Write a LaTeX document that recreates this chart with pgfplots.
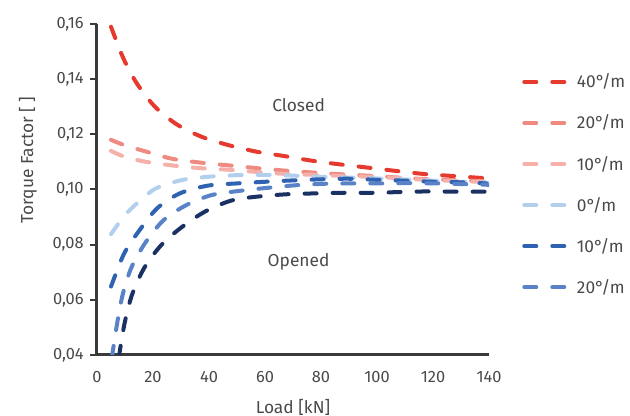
\documentclass[border=0pt]{standalone}
\usepackage{fontspec}
\setmainfont{Fira Sans}
\usepackage{pgfplots}
\pgfplotsset{compat=1.18}
\definecolor{txt}{HTML}{4A4A4A}
\definecolor{axc}{HTML}{3A3A3A}
\definecolor{cA}{HTML}{E63A2E}
\definecolor{cB}{HTML}{EF8A80}
\definecolor{cC}{HTML}{F5B0AA}
\definecolor{cD}{HTML}{B3CFEE}
\definecolor{cE}{HTML}{2F62B0}
\definecolor{cF}{HTML}{5A82C6}
\definecolor{cG}{HTML}{1B3163}
\begin{document}
\begin{tikzpicture}
\path[use as bounding box] (-72.75pt,-45.75pt) rectangle (399.75pt,266.25pt);
\begin{axis}[
  at={(0pt,0pt)}, anchor=south west,
  scale only axis, width=294pt, height=248.25pt,
  xmin=0, xmax=140, ymin=0.04, ymax=0.16,
  xtick={0,20,...,140}, ytick={0.04,0.06,...,0.161},
  axis lines*=left,
  axis line style={axc, line width=2.25pt},
  xtick style={draw=none},
  ytick style={axc, line width=1.5pt},
  tick align=outside, major tick length=5pt,
  font=\fontsize{13}{15}\selectfont\color{txt},
  tick label style={font=\fontsize{12.3}{14}\selectfont\color{txt}},
  /pgf/number format/assume math mode=true,
  yticklabel style={/pgf/number format/.cd, use comma, fixed, fixed zerofill, precision=2, /tikz/.cd, xshift=-1.5pt},
  xticklabel style={/pgf/number format/.cd, fixed, /tikz/.cd, yshift=-3.5pt},
  ylabel={Torque Factor [ ]},
  xlabel={Load [kN]},
  ylabel style={at={(axis description cs:-0.176,0.589)}, anchor=center},
  xlabel style={at={(axis description cs:0.5,-0.158)}, anchor=center},
  clip=true,
  every axis plot/.append style={line width=3pt, line cap=round, dash pattern=on 9pt off 12pt, smooth},
  legend image code/.code={\draw[#1, line width=3pt, line cap=round, dash pattern=on 9pt off 12pt] (1.5pt,0pt) -- (31.5pt,0pt);},
  legend cell align=left,
  legend style={draw=none, fill=none, at={(axis description cs:1.074,0.866)}, anchor=north west,
    row sep=14.8pt, font=\fontsize{13}{15}\selectfont\color{txt},
    /tikz/every odd column/.append style={column sep=6pt}},
]
\addplot[cA] coordinates {(5,0.159) (9.4,0.1476) (14.2,0.1385) (20.7,0.130) (28.5,0.1236) (37.4,0.1191) (46.9,0.1161) (57,0.1137) (67,0.1121) (77,0.1104) (86.8,0.1091) (97,0.1079) (107,0.1067) (117,0.1056) (127,0.1049) (140,0.1040)};
\addlegendentry{40°/m}
\addplot[cB] coordinates {(5,0.118) (10,0.1160) (17.7,0.1137) (27,0.1111) (37.4,0.1097) (47.5,0.1087) (57.6,0.1077) (67.7,0.1068) (77.9,0.1061) (87.4,0.1055) (97,0.1050) (106.4,0.1044) (116.5,0.1038) (126.7,0.1034) (140,0.1030)};
\addlegendentry{20°/m}
\addplot[cC] coordinates {(5,0.1140) (10,0.1118) (17.7,0.1100) (27.9,0.1086) (37.4,0.1077) (48,0.1071) (58,0.1063) (68.3,0.1056) (78.5,0.1053) (88,0.1049) (98,0.1046) (108,0.1041) (117.7,0.1035) (127.9,0.1031) (140,0.1027)};
\addlegendentry{10°/m}
\addplot[cD] coordinates {(5,0.0838) (9,0.0895) (13,0.0938) (20.7,0.1002) (30.2,0.1034) (39.6,0.1046) (50,0.1052) (60.7,0.1053) (70.7,0.1050) (80,0.1046) (90,0.1043) (100,0.1040) (110,0.1036) (120,0.1032) (130,0.1028) (140,0.1024)};
\addlegendentry{0°/m}
\addplot[cE] coordinates {(5,0.0648) (9.6,0.0766) (14.8,0.0847) (21.5,0.0932) (29.6,0.0986) (39.6,0.1014) (49.9,0.1022) (60,0.1028) (70,0.1033) (80.2,0.1037) (89.8,0.1039) (100,0.1035) (110,0.1032) (120,0.1028) (130,0.1026) (139,0.1022)};
\addlegendentry{10°/m}
\addplot[cF] coordinates {(5.3,0.039) (5.8,0.0424) (7.4,0.0527) (9.3,0.0624) (12.4,0.0720) (17.4,0.0809) (23.8,0.0889) (32,0.0944) (41,0.0980) (51.7,0.0996) (61.8,0.1007) (71.8,0.1016) (82,0.1021) (92,0.1022) (102,0.1022) (112,0.1023) (122,0.1022) (132,0.1019) (140,0.1017)};
\addlegendentry{20°/m}
\addplot[cG, forget plot] coordinates {(7.9,0.039) (8.3,0.0424) (10.1,0.0527) (12.7,0.0624) (17,0.0718) (23,0.0799) (30.2,0.0863) (38.6,0.0920) (48,0.0960) (58,0.0975) (68.3,0.0983) (78.5,0.0986) (88,0.0988) (98.7,0.0988) (108.8,0.0991) (118.3,0.0993) (128.5,0.0992) (140,0.0992)};
\node[font=\fontsize{13}{15}\selectfont, text=txt] at (axis cs:72,0.1306) {Closed};
\node[font=\fontsize{13}{15}\selectfont, text=txt] at (axis cs:72,0.0737) {Opened};
\end{axis}
\end{tikzpicture}
\end{document}
